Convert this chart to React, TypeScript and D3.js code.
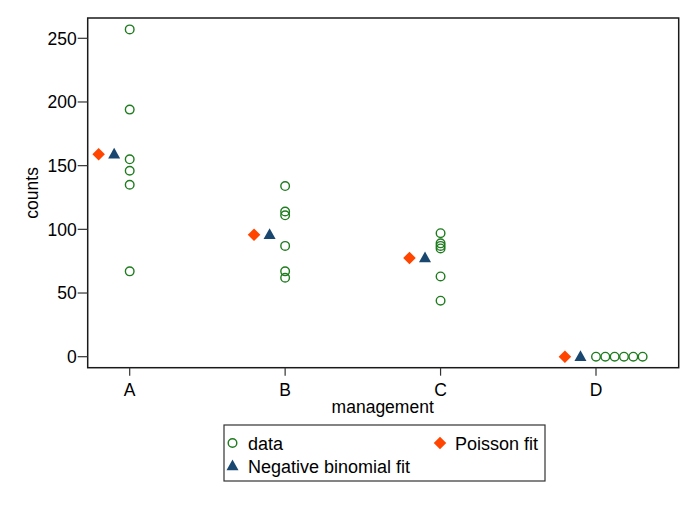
import React from "react";
import * as d3 from "d3";

const categories = ["A", "B", "C", "D"];
const countsA = [257, 194, 155, 146, 135, 67];
const countsB = [134, 114, 111, 87, 67, 62];
const countsC = [97, 89, 87, 85, 63, 44];
const countsD = [0, 0, 0, 0, 0, 0];
const poissonFit = [159, 95.8, 77.5, 0];
const negbinFit = [159, 95.8, 77.5, 0];
const yTicks = [0, 50, 100, 150, 200, 250];

const W = 698;
const H = 507;
const FONT = "Arial, 'Liberation Sans', Helvetica, sans-serif";
const GREEN = "#1e7b1e";
const ORANGE = "#ff4500";
const NAVY = "#1a476f";

export default function App() {
  const frame = { left: 87.7, top: 18, right: 678.7, bottom: 367.7 };
  const x = d3.scaleLinear().domain([1, 4]).range([129.7, 596]);
  const y = d3.scaleLinear().domain([0, 250]).range([356.7, 38.3]);

  const groups = [countsA, countsB, countsC, countsD];
  const points: { cx: number; cy: number }[] = [];
  groups.forEach((vals, gi) => {
    const seen = new Map<number, number>();
    vals.forEach((v) => {
      const k = seen.get(v) || 0;
      seen.set(v, k + 1);
      points.push({ cx: x(gi + 1 + k * 0.06), cy: y(v) });
    });
  });

  const diamond = d3.symbol().type(d3.symbolDiamond2).size(100)();
  const tri = (cx: number, cy: number, s: number) => {
    const h = s * 0.9;
    return `M${cx},${cy - h * 0.6}L${cx + s / 2},${cy + h * 0.4}L${cx - s / 2},${cy + h * 0.4}Z`;
  };

  return (
    <svg width={W} height={H} style={{ position: "absolute", left: 0, top: 0, background: "#fff" }}>
      <rect x={0} y={0} width={W} height={H} fill="#fff" />
      <rect
        x={frame.left}
        y={frame.top}
        width={frame.right - frame.left}
        height={frame.bottom - frame.top}
        fill="#fff"
        stroke="#1a1a1a"
        strokeWidth={1.5}
      />
      {yTicks.map((t) => (
        <g key={t}>
          <line x1={frame.left - 10} x2={frame.left} y1={y(t)} y2={y(t)} stroke="#333" strokeWidth={1.2} />
          <text
            x={frame.left - 11}
            y={y(t)}
            dy="0.36em"
            textAnchor="end"
            fontFamily={FONT}
            fontSize={17.5}
            fill="#000"
          >
            {t}
          </text>
        </g>
      ))}
      {categories.map((c, i) => (
        <g key={c}>
          <line x1={x(i + 1)} x2={x(i + 1)} y1={frame.bottom} y2={frame.bottom + 8} stroke="#333" strokeWidth={1.2} />
          <text x={x(i + 1)} y={396} textAnchor="middle" fontFamily={FONT} fontSize={17.5} fill="#000">
            {c}
          </text>
        </g>
      ))}
      <text x={(frame.left + frame.right) / 2 - 0.5} y={413} textAnchor="middle" fontFamily={FONT} fontSize={17.5}>
        management
      </text>
      <text
        transform={`translate(38,${(frame.top + frame.bottom) / 2}) rotate(-90)`}
        textAnchor="middle"
        fontFamily={FONT}
        fontSize={17.5}
      >
        counts
      </text>

      {poissonFit.map((v, i) => (
        <path key={"p" + i} d={diamond!} transform={`translate(${x(i + 1 - 0.2)},${y(v)})`} fill={ORANGE} />
      ))}
      {negbinFit.map((v, i) => (
        <path key={"n" + i} d={tri(x(i + 1 - 0.1), y(v), 12)} fill={NAVY} />
      ))}
      {points.map((p, i) => (
        <circle key={"d" + i} cx={p.cx} cy={p.cy} r={4.3} fill="none" stroke={GREEN} strokeWidth={1.4} />
      ))}

      <g>
        <rect x={224} y={425} width={321} height={56} fill="#fff" stroke="#333" strokeWidth={1.2} />
        <circle cx={232.5} cy={443} r={4.3} fill="none" stroke={GREEN} strokeWidth={1.4} />
        <text x={248} y={449.5} fontFamily={FONT} fontSize={18}>
          data
        </text>
        <path d={diamond!} transform="translate(440,443)" fill={ORANGE} />
        <text x={455} y={449.5} fontFamily={FONT} fontSize={18}>
          Poisson fit
        </text>
        <path d={tri(232.5, 466, 12)} fill={NAVY} />
        <text x={248} y={472.5} fontFamily={FONT} fontSize={18}>
          Negative binomial fit
        </text>
      </g>
    </svg>
  );
}
